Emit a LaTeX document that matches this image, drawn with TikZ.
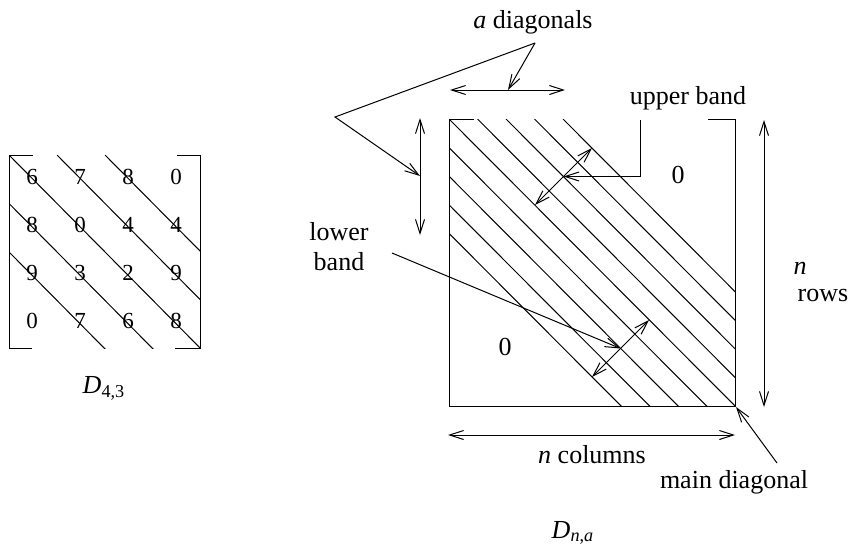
\documentclass[tikz,border=0pt]{standalone}
\usepackage{fontspec}
\setmainfont{Liberation Serif}
\usetikzlibrary{arrows.meta}
\tikzset{
  lbl/.style={font=\fontsize{13}{15}\selectfont, inner sep=1pt},
  entry/.style={font=\fontsize{11.5}{13}\selectfont, inner sep=0pt},
  dimarrow/.style={{Straight Barb[length=7pt,width=4.5pt]}-{Straight Barb[length=7pt,width=4.5pt]}},
  pointer/.style={-{Straight Barb[length=7pt,width=4.5pt]}},
}
\begin{document}
\begin{tikzpicture}[x=0.5pt, y=-0.5pt, line width=0.5pt]
    \useasboundingbox (0,0) rectangle (855,557);

    % Small matrix D_{4,3}
    \draw (33,155) -- (9,155) -- (9,348) -- (32,348);
    \draw (177,155) -- (200,155) -- (200,348) -- (175,348);
    \begin{scope}
        \clip (9,155) rectangle (200,348);
        \foreach \k in {-2,...,2}
            \draw (9+48*\k,155) -- ++(400,404);
    \end{scope}
    \foreach \row [count=\i from 0] in {{6,7,8,0},{8,0,4,4},{9,3,2,9},{0,7,6,8}}
        \foreach \val [count=\j from 0] in \row
            \node[entry] (d\i\j) at (32+48*\j, 177+48*\i) {\val};
    \node[lbl] (smallname) at (104,388) {\textit{D}\textsubscript{4,3}};

    % Band matrix D_{n,a}
    \draw (474,119) -- (449,119) -- (449,406) -- (735,406) -- (735,119) -- (708,119);
    \begin{scope}
        \clip (449,119) rectangle (735,406);
        \foreach \k in {-4,...,4}
            \draw (449+28.5*\k,119) -- ++(600,602);
    \end{scope}
    \node[lbl] (zeroup) at (678,175) {0};
    \node[lbl] (zerolow) at (505,347) {0};
    \node[lbl] (bigname) at (573,533) {\textit{D}\textsubscript{\textit{n},\textit{a}}};

    % Upper band
    \coordinate (ubin) at (535,205);
    \coordinate (ubout) at (592,148);
    \coordinate (ubmid) at (563.5,176.5);
    \coordinate (ubfoot) at (640,120);
    \draw[dimarrow] (ubin) -- (ubout);
    \node[lbl] (upper) at (688,98) {upper band};
    \draw[pointer] (ubfoot) |- (ubmid);

    % Lower band
    \coordinate (lbout) at (592,377);
    \coordinate (lbin) at (649,320);
    \coordinate (lbmid) at (620.5,348.5);
    \coordinate (lbfoot) at (392,253);
    \draw[dimarrow] (lbout) -- (lbin);
    \node[lbl, align=center] (lower) at (339,247) {lower\\band};
    \draw[pointer] (lbfoot) -- (lbmid);

    % a diagonals
    \node[lbl] (adiag) at (533,22) {\textit{a} diagonals};
    \coordinate (adfoot) at (535,43);
    \coordinate (adleft) at (450,90);
    \coordinate (adright) at (565,90);
    \coordinate (adtip) at (508,90);
    \coordinate (vtop) at (420,118);
    \coordinate (vbot) at (420,235);
    \coordinate (vtip) at (420,176);
    \coordinate (bend) at (335,117);
    \draw[dimarrow] (adleft) -- (adright);
    \draw[dimarrow] (vtop) -- (vbot);
    \draw[pointer] (adfoot) -- (adtip);
    \draw[pointer] (adfoot) -- (bend) -- (vtip);

    % n rows, n columns
    \coordinate (rtop) at (764,120);
    \coordinate (rbot) at (764,407);
    \draw[dimarrow] (rtop) -- (rbot);
    \node[lbl] (nr) at (800,268) {\textit{n}};
    \node[lbl] (rows) at (823,295) {rows};
    \coordinate (cleft) at (448,435);
    \coordinate (cright) at (735,435);
    \draw[dimarrow] (cleft) -- (cright);
    \node[lbl] (cols) at (592,455) {\textit{n} columns};

    % Main diagonal
    \node[lbl] (maind) at (734,482) {main diagonal};
    \coordinate (mdfoot) at (777,463);
    \coordinate (mdtip) at (736,407);
    \draw[pointer] (mdfoot) -- (mdtip);
\end{tikzpicture}
\end{document}
